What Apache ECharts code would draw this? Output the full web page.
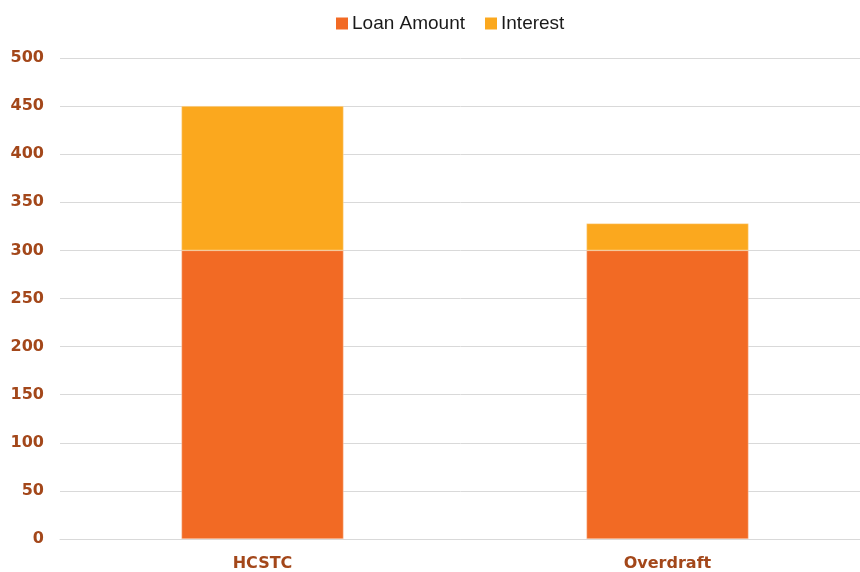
<!DOCTYPE html>
<html>
<head>
<meta charset="utf-8">
<script src="https://cdn.jsdelivr.net/npm/echarts@6/dist/echarts.min.js"></script>
<style>
  html, body { margin: 0; padding: 0; background: #fff; }
  #chart { width: 860px; height: 572px; }
</style>
</head>
<body>
<div id="chart"></div>
<script>
const categories = ['HCSTC', 'Overdraft']
const loanAmount = [300, 300]
const interest = [150, 28]
const yTicks = [0, 50, 100, 150, 200, 250, 300, 350, 400, 450, 500]

const myChart = echarts.init(document.getElementById('chart'))
const labelColor = '#A3471A'
myChart.setOption({
    animation: false,
    legend: {
        top: 9,
        left: 331,
        itemWidth: 12,
        itemHeight: 12,
        itemGap: 20,
        icon: 'rect',
        itemStyle: { borderWidth: 0 },
        textStyle: { fontFamily: 'Liberation Sans', fontSize: 19, color: '#1a1a1a', padding: [0, 0, 0, -1] },
        data: ['Loan Amount', 'Interest']
    },
    // grid is a bit wider than the window so the categories line up
    grid: { left: 60, width: 810, top: 58, bottom: 33, containLabel: false, outerBoundsMode: 'none' },
    xAxis: {
        type: 'category',
        data: categories,
        axisTick: { show: false },
        axisLine: { lineStyle: { color: '#d9d9d9' } },
        axisLabel: {
            margin: 17,
            fontFamily: 'DejaVu Sans',
            fontWeight: 'bold',
            fontSize: 16,
            color: labelColor
        }
    },
    yAxis: {
        type: 'value',
        min: yTicks[0],
        max: yTicks[yTicks.length - 1],
        interval: 50,
        axisLine: { show: false },
        axisTick: { show: false },
        splitLine: { lineStyle: { color: '#d9d9d9' } },
        axisLabel: {
            margin: 16,
            fontFamily: 'DejaVu Sans',
            fontWeight: 'bold',
            fontSize: 16,
            color: labelColor
        }
    },
    series: [
        {
            name: 'Loan Amount',
            type: 'bar',
            stack: 'total',
            barWidth: '40%',
            itemStyle: { color: '#F26A24', borderColor: '#fbd8c4', borderWidth: 0.5 },
            data: loanAmount
        },
        {
            name: 'Interest',
            type: 'bar',
            stack: 'total',
            barWidth: '40%',
            itemStyle: { color: '#FBA81E', borderColor: '#fde3bb', borderWidth: 0.5 },
            data: interest
        }
    ]
})
window.addEventListener('resize', () => {
    myChart.resize()
})
</script>
</body>
</html>
